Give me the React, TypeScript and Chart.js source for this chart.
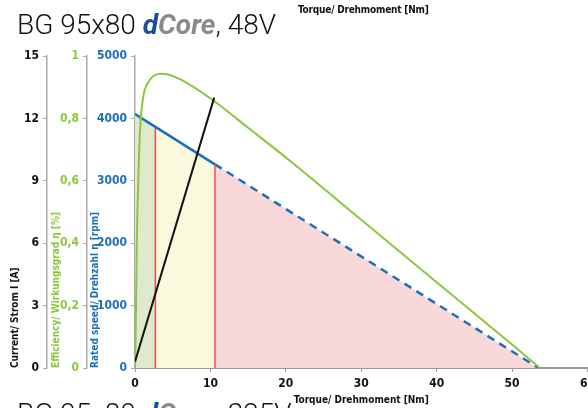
import React, { useEffect, useRef } from 'react';
import { Chart, registerables } from 'chart.js';
Chart.register(...registerables);

// ---- data ----
const torqueTicks = [0, 10, 20, 30, 40, 50, 60];
const currentTicks = [0, 3, 6, 9, 12, 15];
const effTicks = [0, 0.2, 0.4, 0.6, 0.8, 1];
const effTickLabels = ['0', '0,2', '0,4', '0,6', '0,8', '1'];
const speedTicks = [0, 1000, 2000, 3000, 4000, 5000];

// speed line: start, end of green zone, end of rated (solid) zone, no-load end
const speedTorque = [0, 2.7, 10.6, 53.5];
const speedRpm = [4070, 3865, 3264, 0];

const effTorque = [0, 0.08, 0.15, 0.25, 0.44, 0.66, 1.1, 1.75, 2.4, 3.5, 4.6, 6.8, 10.3, 15, 20.5, 30, 40, 50, 53.7];
const effValue = [0, 0.1, 0.22, 0.42, 0.6, 0.76, 0.87, 0.915, 0.935, 0.943, 0.939, 0.915, 0.859, 0.77, 0.665, 0.475, 0.275, 0.075, 0];

const currentTorque = [0, 10.5];
const currentAmps = [0.3, 13.0];

const NARROW = '"Liberation Sans Narrow", "DejaVu Sans Condensed", sans-serif';
const BLUE = '#1c6fba';
const GREEN = '#8cc63f';
const RED = '#ee4e4a';
const GRAY = '#aaaaaa';

const pts = (xs: number[], ys: number[]) => xs.map((x, i) => ({ x, y: ys[i] }));

function App() {
  const ref = useRef<HTMLCanvasElement | null>(null);
  useEffect(() => {
    if (!ref.current) return;
    const tickFont = { family: NARROW, size: 12, weight: 'bold' as const };
    const titleFont = { family: NARROW, size: 10, weight: 'bold' as const };
    const yBase = (color: string, ticks: number[], w: number, weight: number, title: string, titlePad: number, labels?: string[]) => ({
      type: 'linear' as const,
      position: 'left' as const,
      weight,
      min: ticks[0],
      max: ticks[ticks.length - 1],
      afterBuildTicks: (s: any) => { s.ticks = ticks.map((v) => ({ value: v })); },
      afterFit: (s: any) => { s.width = w; },
      grid: { drawOnChartArea: false, drawTicks: true, tickLength: 4, color: GRAY, lineWidth: 1 },
      border: { color: GRAY, width: 1.5 },
      ticks: {
        color,
        font: tickFont,
        padding: 4,
        callback: (v: any, i: number) => (labels ? labels[i] : String(v)),
      },
      title: {
        display: true,
        text: title,
        color,
        font: titleFont,
        align: 'start' as const,
        padding: { top: titlePad, bottom: 0 },
      },
    });

    const chart = new Chart(ref.current, {
      type: 'line',
      data: {
        datasets: [
          {
            label: 'zone1',
            data: pts(speedTorque.slice(0, 2), speedRpm.slice(0, 2)),
            yAxisID: 'speed',
            borderWidth: 0,
            backgroundColor: '#dfe9cb',
            fill: 'origin',
            pointRadius: 0,
            order: 10,
          },
          {
            label: 'zone2',
            data: pts(speedTorque.slice(1, 3), speedRpm.slice(1, 3)),
            yAxisID: 'speed',
            borderWidth: 0,
            backgroundColor: '#fbf9dd',
            fill: 'origin',
            pointRadius: 0,
            order: 10,
          },
          {
            label: 'zone3',
            data: pts(speedTorque.slice(2, 4), speedRpm.slice(2, 4)),
            yAxisID: 'speed',
            borderWidth: 2.5,
            borderColor: BLUE,
            borderDash: [8, 6],
            backgroundColor: '#f9d8da',
            fill: 'origin',
            pointRadius: 0,
            order: 9,
          },
          {
            label: 'red1',
            data: [{ x: speedTorque[1], y: 0 }, { x: speedTorque[1], y: speedRpm[1] }],
            yAxisID: 'speed',
            borderColor: RED,
            borderWidth: 1.5,
            pointRadius: 0,
            order: 5,
          },
          {
            label: 'red2',
            data: [{ x: speedTorque[2], y: 0 }, { x: speedTorque[2], y: speedRpm[2] }],
            yAxisID: 'speed',
            borderColor: RED,
            borderWidth: 1.5,
            pointRadius: 0,
            order: 5,
          },
          {
            label: 'speed',
            data: pts(speedTorque.slice(0, 3), speedRpm.slice(0, 3)),
            yAxisID: 'speed',
            borderColor: BLUE,
            borderWidth: 2.5,
            pointRadius: 0,
            order: 3,
          },
          {
            label: 'efficiency',
            data: pts(effTorque, effValue),
            yAxisID: 'eff',
            borderColor: GREEN,
            borderWidth: 2,
            pointRadius: 0,
            cubicInterpolationMode: 'monotone',
            order: 2,
          },
          {
            label: 'current',
            data: pts(currentTorque, currentAmps),
            yAxisID: 'current',
            borderColor: '#111111',
            borderWidth: 2,
            pointRadius: 0,
            order: 1,
          },
        ],
      },
      options: {
        responsive: false,
        animation: false,
        layout: { padding: { top: 56, left: 0, right: 0, bottom: 0 } },
        plugins: { legend: { display: false }, tooltip: { enabled: false } },
        scales: {
          x: {
            type: 'linear',
            position: 'bottom',
            min: torqueTicks[0],
            max: torqueTicks[torqueTicks.length - 1],
            afterBuildTicks: (s: any) => { s.ticks = torqueTicks.map((v) => ({ value: v })); },
            afterFit: (s: any) => { s.height = 40; },
            grid: { drawOnChartArea: false, drawTicks: true, tickLength: 4, color: '#999999' },
            border: { color: '#999999', width: 2 },
            ticks: { color: '#111111', font: tickFont, padding: 5, maxRotation: 0 },
            title: {
              display: true,
              text: 'Torque/ Drehmoment [Nm]',
              color: '#111111',
              font: titleFont,
              padding: { top: 0, bottom: 2 },
            },
          },
          current: yBase('#111111', currentTicks, 47, 3, 'Current/ Strom I [A]', 9),
          eff: yBase(GREEN, effTicks, 40, 2, 'Efficiency/ Wirkungsgrad η [%]', 3, effTickLabels),
          speed: yBase(BLUE, speedTicks, 48, 1, 'Rated speed/ Drehzahl n [rpm]', 2),
        },
      },
    } as any);
    return () => chart.destroy();
  }, []);

  const bigTitle = (top: number, volt: string) => (
    <div
      style={{
        position: 'absolute',
        left: 17,
        top,
        fontFamily: 'Roboto, "Liberation Sans", sans-serif',
        fontWeight: 300,
        fontSize: 28,
        lineHeight: '28px',
        color: '#111',
        whiteSpace: 'nowrap',
      }}
    >
      BG 95x80{' '}
      <span style={{ fontWeight: 700, fontStyle: 'italic' }}>
        <span style={{ color: '#1c4d99' }}>d</span>
        <span style={{ color: '#8a8a8a' }}>Core</span>
      </span>
      , {volt}
    </div>
  );

  return (
    <div style={{ position: 'fixed', left: 0, top: 0, width: 588, height: 408, overflow: 'hidden', background: '#fff' }}>
      <canvas ref={ref} width={600} height={408} style={{ position: 'absolute', left: 0, top: 0 }} />
      {bigTitle(11, '48V')}
      {bigTitle(400, '325V')}
      <div
        style={{
          position: 'absolute',
          left: 298,
          top: 4,
          fontFamily: NARROW,
          fontWeight: 700,
          fontSize: 10,
          letterSpacing: '-0.2px',
          color: '#111',
          whiteSpace: 'nowrap',
        }}
      >
        Torque/ Drehmoment [Nm]
      </div>
    </div>
  );
}

export default App;
